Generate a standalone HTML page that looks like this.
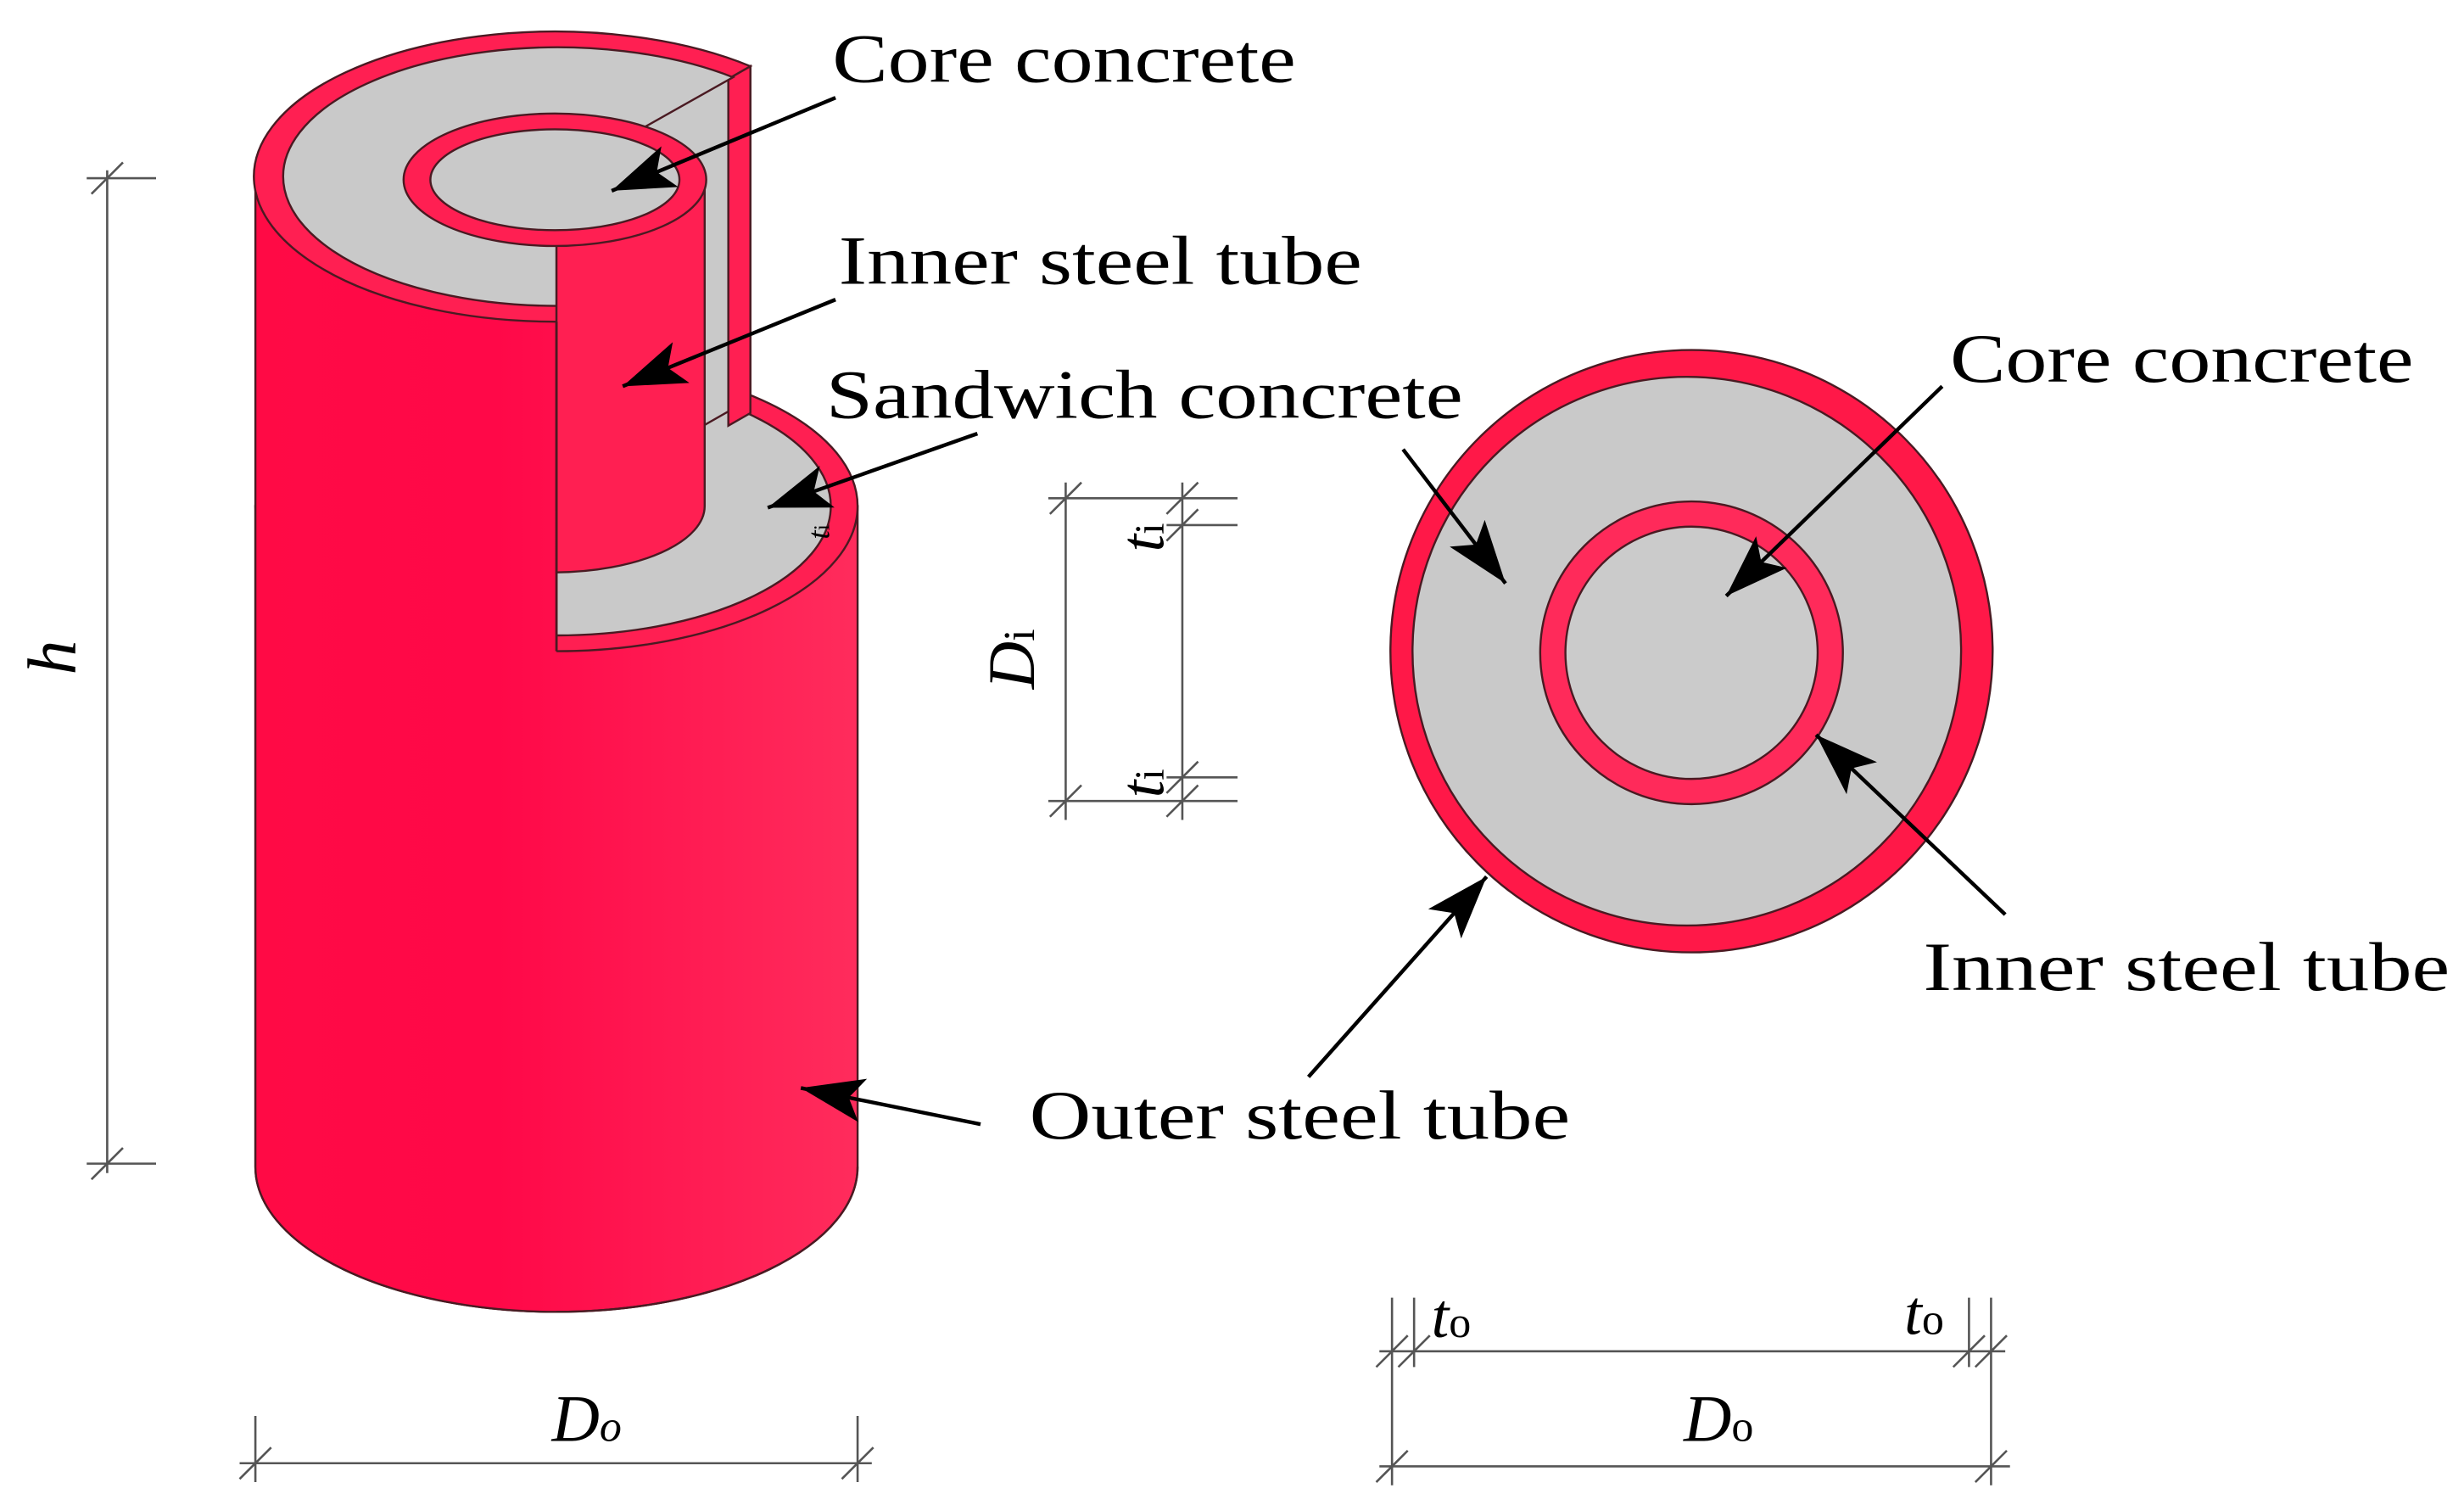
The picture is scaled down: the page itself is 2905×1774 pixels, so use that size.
<!DOCTYPE html>
<html><head><meta charset="utf-8"><style>html,body{margin:0;padding:0;background:#fff}svg{display:block}</style></head>
<body>
<svg width="2905" height="1774" viewBox="0 0 1563 954.5" preserveAspectRatio="none" xmlns="http://www.w3.org/2000/svg">
<defs>
<linearGradient id="rg" gradientUnits="userSpaceOnUse" x1="162" x2="544" y1="0" y2="0"><stop offset="0" stop-color="#ff0a45"/><stop offset="0.4" stop-color="#ff0848"/><stop offset="1" stop-color="#ff2c5c"/></linearGradient>
<marker id="ah" markerUnits="userSpaceOnUse" markerWidth="44" markerHeight="30" refX="40" refY="14" orient="auto"><path d="M0,0 L40,14 L0,28 L9,14 Z" fill="#000"/></marker>
</defs>
<rect width="1563" height="954.5" fill="#fff"/>
<g stroke="#4a1a22" stroke-width="1.3">
<!-- lower cylinder body -->
<path d="M162,321 L162,740 A191,92 0 0 0 544,740 L544,321 Z" fill="url(#rg)"/>
<!-- lower top face -->
<ellipse cx="353" cy="321" rx="191" ry="92" fill="#ff1f52"/>
<ellipse cx="353" cy="321" rx="174" ry="82" fill="#c9c9c9"/>
</g>
<!-- upper left body extended to bottom, no stroke -->
<path d="M162,112 L162,740 A191,92 0 0 0 353,832 L353,204 A191,92 0 0 1 162,112 Z" fill="url(#rg)"/>
<g stroke="#4a1a22" stroke-width="1.3" fill="none">
<line x1="162" y1="112" x2="162" y2="740"/>
<path d="M162,740 A191,92 0 0 0 544,740"/>
</g>
<g stroke="#4a1a22" stroke-width="1.3">
<!-- cut plane -->
<path d="M353,112 L476,42 L476,253 L353,323 Z" fill="#c9c9c9"/>
<path d="M462,50 L476,42 L476,262 L462,270 Z" fill="#ff1f52"/>
<!-- upper top annulus -->
<path d="M353,112 L353,204 A191,92 0 1 1 476,42 Z" fill="#ff1f52"/>
<path d="M353,112 L353,194 A174,82 0 1 1 465,49 Z" fill="#c9c9c9"/>
<!-- inner tube -->
<path d="M353,114 L447,114 L447,321 A96,42 0 0 1 353,363 Z" fill="#ff1f52"/>
<ellipse cx="352" cy="114" rx="96" ry="42" fill="#ff1f52"/>
<ellipse cx="352" cy="114" rx="79" ry="32" fill="#c9c9c9"/>
</g>
<line x1="353" y1="204" x2="353" y2="413" stroke="#4a1a22" stroke-width="1.5"/>

<!-- right cross-section -->
<g stroke="#4a1a22" stroke-width="1.3">
<circle cx="1073" cy="413" r="191" fill="#ff1848"/>
<circle cx="1070" cy="413" r="174" fill="#c9c9c9"/>
<circle cx="1073" cy="414" r="96" fill="#ff2a5a"/>
<circle cx="1073" cy="414" r="80" fill="#cbcbcb"/>
</g>

<!-- dimension lines -->
<g stroke="#555" stroke-width="1.4" fill="none">
<line x1="68" y1="108" x2="68" y2="744"/>
<line x1="55" y1="113" x2="99" y2="113"/><line x1="55" y1="738" x2="99" y2="738"/>
<line x1="58" y1="123" x2="78" y2="103"/><line x1="58" y1="748" x2="78" y2="728"/>
<line x1="152" y1="928" x2="553" y2="928"/>
<line x1="162" y1="898" x2="162" y2="940"/><line x1="544" y1="898" x2="544" y2="940"/>
<line x1="152" y1="938" x2="172" y2="918"/><line x1="534" y1="938" x2="554" y2="918"/>
<line x1="676" y1="306" x2="676" y2="520"/><line x1="750" y1="306" x2="750" y2="520"/>
<line x1="665" y1="316" x2="785" y2="316"/><line x1="740" y1="333" x2="785" y2="333"/>
<line x1="740" y1="493" x2="785" y2="493"/><line x1="665" y1="508" x2="785" y2="508"/>
<line x1="666" y1="326" x2="686" y2="306"/><line x1="740" y1="326" x2="760" y2="306"/>
<line x1="740" y1="343" x2="760" y2="323"/><line x1="740" y1="503" x2="760" y2="483"/>
<line x1="666" y1="518" x2="686" y2="498"/><line x1="740" y1="518" x2="760" y2="498"/>
<line x1="875" y1="857" x2="1272" y2="857"/>
<line x1="875" y1="930" x2="1275" y2="930"/>
<line x1="883" y1="823" x2="883" y2="942"/><line x1="897" y1="823" x2="897" y2="867"/>
<line x1="1249" y1="823" x2="1249" y2="867"/><line x1="1263" y1="823" x2="1263" y2="942"/>
<line x1="873" y1="867" x2="893" y2="847"/><line x1="887" y1="867" x2="907" y2="847"/>
<line x1="1239" y1="867" x2="1259" y2="847"/><line x1="1253" y1="867" x2="1273" y2="847"/>
<line x1="873" y1="940" x2="893" y2="920"/><line x1="1253" y1="940" x2="1273" y2="920"/>
</g>

<!-- arrows -->
<g stroke="#000" stroke-width="2.4" marker-end="url(#ah)">
<line x1="530" y1="62" x2="388" y2="121"/>
<line x1="530" y1="190" x2="395" y2="245"/>
<line x1="620" y1="275" x2="487" y2="322"/>
<line x1="622" y1="713" x2="508" y2="690"/>
<line x1="830" y1="683" x2="943" y2="556"/>
<line x1="890" y1="285" x2="955" y2="370"/>
<line x1="1232" y1="245" x2="1095" y2="378"/>
<line x1="1272" y1="580" x2="1152" y2="466"/>
</g>

<!-- labels -->
<g font-family="'Liberation Serif', serif" font-size="44" fill="#000">
<text x="528" y="52" textLength="294" lengthAdjust="spacingAndGlyphs">Core concrete</text>
<text x="532" y="180" textLength="332" lengthAdjust="spacingAndGlyphs">Inner steel tube</text>
<text x="524" y="265" textLength="404" lengthAdjust="spacingAndGlyphs">Sandwich concrete</text>
<text x="1237" y="242" textLength="294" lengthAdjust="spacingAndGlyphs">Core concrete</text>
<text x="1220" y="628" textLength="334" lengthAdjust="spacingAndGlyphs">Inner steel tube</text>
<text x="653" y="722" textLength="343" lengthAdjust="spacingAndGlyphs">Outer steel tube</text>
</g>
<g font-family="'Liberation Serif', serif" fill="#000" font-style="italic">
<text transform="translate(48,428) rotate(-90)" font-size="44">h</text>
<text x="350" y="914" font-size="42">D<tspan font-size="28">o</tspan></text>
<text transform="translate(656,437) rotate(-90)" font-size="42">D<tspan font-size="28" font-style="normal">i</tspan></text>
<text transform="translate(738,350) rotate(-90)" font-size="40">t<tspan font-size="26" font-style="normal">i</tspan></text>
<text transform="translate(738,506) rotate(-90)" font-size="40">t<tspan font-size="26" font-style="normal">i</tspan></text>
<text transform="translate(526,342) rotate(-90)" font-size="20">t<tspan font-size="14" font-style="normal">i</tspan></text>
<text x="908" y="848" font-size="40">t<tspan font-size="28" font-style="normal">o</tspan></text>
<text x="1208" y="846" font-size="40">t<tspan font-size="28" font-style="normal">o</tspan></text>
<text x="1068" y="914" font-size="42">D<tspan font-size="28" font-style="normal">o</tspan></text>
</g>
</svg>
</body></html>
